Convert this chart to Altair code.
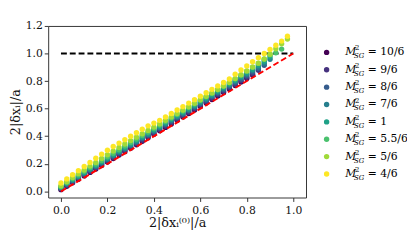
import altair as alt
import pandas as pd

X = [0.0, 0.025, 0.05, 0.075, 0.1, 0.125, 0.15, 0.175, 0.2, 0.225, 0.25, 0.275,
     0.3, 0.325, 0.35, 0.375, 0.4, 0.425, 0.45, 0.475, 0.5, 0.525, 0.55, 0.575,
     0.6, 0.625, 0.65, 0.675, 0.7, 0.725, 0.75, 0.775, 0.8, 0.825, 0.85, 0.875,
     0.9, 0.925, 0.95, 0.975]

Y_10_6 = [0.012, 0.037, 0.062, 0.087, 0.112, 0.137, 0.162, 0.187, 0.213, 0.238, 0.263, 0.288,
          0.313, 0.338, 0.363, 0.389, 0.414, 0.439, 0.464, 0.489, 0.515, 0.540, 0.565, 0.590,
          0.616, 0.641, 0.666, 0.691, 0.717, 0.742, 0.767, 0.793, 0.818, 0.844]
Y_9_6 = [0.018, 0.043, 0.068, 0.094, 0.119, 0.144, 0.169, 0.195, 0.220, 0.245, 0.270, 0.296,
         0.321, 0.346, 0.371, 0.397, 0.422, 0.447, 0.472, 0.498, 0.523, 0.548, 0.574, 0.599,
         0.624, 0.650, 0.675, 0.700, 0.726, 0.751, 0.776, 0.802, 0.827, 0.852, 0.878]
Y_8_6 = [0.022, 0.049, 0.075, 0.101, 0.126, 0.152, 0.177, 0.203, 0.228, 0.254, 0.279, 0.305,
         0.330, 0.355, 0.381, 0.406, 0.432, 0.457, 0.483, 0.508, 0.533, 0.559, 0.584, 0.610,
         0.635, 0.660, 0.686, 0.711, 0.737, 0.762, 0.788, 0.813, 0.839, 0.865, 0.891, 0.915]
Y_7_6 = [0.026, 0.054, 0.080, 0.106, 0.132, 0.158, 0.183, 0.209, 0.235, 0.260, 0.286, 0.311,
         0.337, 0.362, 0.388, 0.413, 0.439, 0.464, 0.490, 0.515, 0.541, 0.566, 0.592, 0.617,
         0.643, 0.668, 0.694, 0.719, 0.745, 0.771, 0.797, 0.823, 0.849, 0.876, 0.902, 0.930,
         0.958]
Y_1 = [0.030, 0.058, 0.085, 0.111, 0.137, 0.163, 0.189, 0.215, 0.241, 0.267, 0.293, 0.318,
       0.344, 0.370, 0.395, 0.421, 0.446, 0.472, 0.497, 0.523, 0.548, 0.574, 0.599, 0.625,
       0.650, 0.676, 0.701, 0.727, 0.753, 0.779, 0.805, 0.832, 0.858, 0.886, 0.914, 0.944,
       0.975]
Y_55_6 = [0.034, 0.064, 0.092, 0.119, 0.146, 0.172, 0.198, 0.224, 0.250, 0.276, 0.302, 0.328,
          0.354, 0.379, 0.405, 0.430, 0.456, 0.481, 0.507, 0.532, 0.558, 0.583, 0.609, 0.634,
          0.660, 0.685, 0.711, 0.737, 0.763, 0.789, 0.816, 0.843, 0.871, 0.899, 0.928, 0.958,
          0.990, 1.005, 1.032]
Y_5_6 = [0.040, 0.070, 0.100, 0.128, 0.155, 0.183, 0.210, 0.238, 0.265, 0.292, 0.318, 0.343,
         0.368, 0.393, 0.418, 0.442, 0.466, 0.490, 0.515, 0.540, 0.565, 0.590, 0.614, 0.639,
         0.664, 0.689, 0.714, 0.739, 0.764, 0.790, 0.818, 0.846, 0.874, 0.902, 0.930, 0.960,
         0.995, 1.035, 1.070, 1.105]
Y_4_6 = [0.060, 0.090, 0.120, 0.150, 0.180, 0.210, 0.240, 0.270, 0.298, 0.325, 0.350, 0.375,
         0.400, 0.425, 0.450, 0.475, 0.495, 0.515, 0.540, 0.565, 0.590, 0.615, 0.640, 0.665,
         0.690, 0.715, 0.740, 0.765, 0.790, 0.815, 0.850, 0.880, 0.910, 0.940, 0.970, 1.000,
         1.030, 1.060, 1.090, 1.125]

LABELS = ["10/6", "9/6", "8/6", "7/6", "1", "5.5/6", "5/6", "4/6"]
COLORS = ["#440154", "#46327e", "#365c8d", "#277f8e", "#1fa187", "#4ac16d", "#a0da39", "#fde725"]
SERIES = [Y_10_6, Y_9_6, Y_8_6, Y_7_6, Y_1, Y_55_6, Y_5_6, Y_4_6]

LINE_X = [0.0, 1.0]
HLINE_Y = [1.0, 1.0]
DIAG_Y = [0.0, 1.0]

X_TICKS = [0.0, 0.2, 0.4, 0.6, 0.8, 1.0]
Y_TICKS = [0.0, 0.2, 0.4, 0.6, 0.8, 1.0, 1.2]

rows = []
for k, (lab, ys) in enumerate(zip(LABELS, SERIES)):
    for xv, yv in zip(X, ys):
        rows.append({"series": lab, "k": k, "x": xv, "y": yv})
pts = pd.DataFrame(rows)

lines = pd.DataFrame({"x": LINE_X + LINE_X, "y": HLINE_Y + DIAG_Y,
                      "which": ["h", "h", "d", "d"]})

W, H = 263, 175
FONT = "DejaVu Serif"

xs = alt.Scale(domain=[-0.055, 1.055], nice=False, zero=False)
ys = alt.Scale(domain=[-0.045, 1.2], nice=False, zero=False)
cs = alt.Scale(domain=LABELS, range=COLORS)

xaxis = alt.Axis(values=X_TICKS, format=".1f", title="2|δxᵢ⁽⁰⁾|/a", grid=False,
                 tickSize=4, labelFontSize=11, titleFontSize=13, labelPadding=3,
                 titlePadding=2, labelFont=FONT, titleFont=FONT, titleFontWeight="normal",
                 labelOverlap=False)
yaxis = alt.Axis(values=Y_TICKS, format=".1f", title="2|δxᵢ|/a", grid=False,
                 tickSize=4, labelFontSize=11, titleFontSize=13, labelPadding=2,
                 titlePadding=3, labelFont=FONT, titleFont=FONT, titleFontWeight="normal",
                 labelOverlap=False)

base_lines = alt.Chart(lines)
hline = base_lines.transform_filter(alt.datum.which == "h").mark_line(
    color="black", strokeWidth=2, strokeDash=[6, 3]).encode(
    x=alt.X("x:Q", scale=xs, axis=xaxis), y=alt.Y("y:Q", scale=ys, axis=yaxis))
dline = base_lines.transform_filter(alt.datum.which == "d").mark_line(
    color="red", strokeWidth=2, strokeDash=[6, 3]).encode(
    x=alt.X("x:Q", scale=xs, axis=xaxis), y=alt.Y("y:Q", scale=ys, axis=yaxis))

scatter = alt.Chart(pts).mark_circle(size=30, opacity=1).encode(
    x=alt.X("x:Q", scale=xs, axis=xaxis),
    y=alt.Y("y:Q", scale=ys, axis=yaxis),
    color=alt.Color("series:N", scale=cs, legend=None),
    order=alt.Order("k:Q"),
)

main = alt.layer(hline, scatter, dline)

leg = pd.DataFrame({"series": LABELS, "eq": ["= " + l for l in LABELS]})
ly = alt.Y("series:N", sort=LABELS, scale=alt.Scale(type="point", range=[27, 151], padding=0), axis=None)
lbase = alt.Chart(leg)
l_pts = lbase.mark_circle(size=30, opacity=1).encode(
    x=alt.value(284), y=ly, color=alt.Color("series:N", scale=cs, legend=None))
l_m = lbase.mark_text(align="left", baseline="middle", font=FONT, fontSize=11,
                      fontStyle="italic", text="M").encode(x=alt.value(303), y=ly)
l_sup = lbase.mark_text(align="left", baseline="middle", font=FONT, fontSize=7,
                        text="2", dy=-4).encode(x=alt.value(313), y=ly)
l_sub = lbase.mark_text(align="left", baseline="middle", font=FONT, fontSize=7,
                        fontStyle="italic", text="SG", dy=4).encode(x=alt.value(312), y=ly)
l_eq = lbase.mark_text(align="left", baseline="middle", font=FONT, fontSize=11).encode(
    x=alt.value(326), y=ly, text="eq:N")
legend = alt.layer(l_pts, l_m, l_sup, l_sub, l_eq)

chart = alt.layer(main, legend).resolve_scale(y="independent").properties(
    width=W, height=H,
    autosize=alt.AutoSizeParams(type="none"),
    padding={"left": 41, "top": 16, "right": 103, "bottom": 40},
).configure(font=FONT).configure_view(stroke="#333", strokeWidth=1).configure_axis(
    domain=False, tickColor="#333", labelColor="#111", titleColor="#111",
    labelFont=FONT, titleFont=FONT, labelOverlap=False)

chart.save("out.html", embed_options={"renderer": "svg", "actions": False})
